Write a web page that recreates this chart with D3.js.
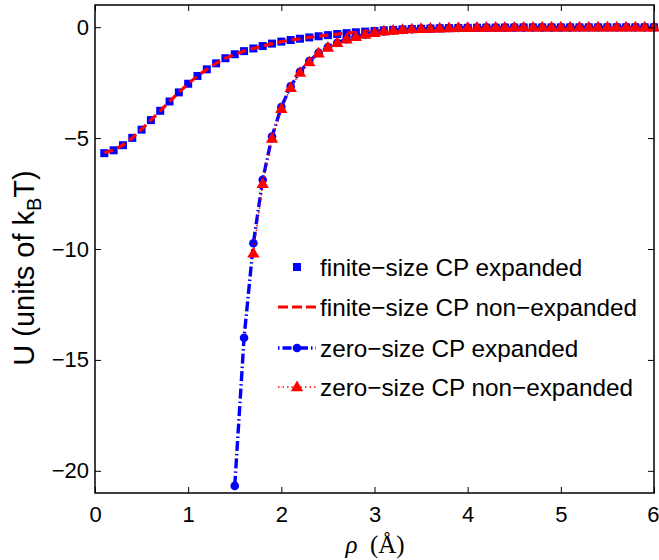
<!DOCTYPE html>
<html>
<head>
<meta charset="utf-8">
<script src="https://cdn.jsdelivr.net/npm/d3@7"></script>
<style>
  html, body { margin: 0; padding: 0; background: #fff; }
  svg { display: block; }
</style>
</head>
<body>
<svg id="chart" width="659" height="560"></svg>
<script>
// ---------------- data ----------------
const rhoFinite = [0.1,0.2,0.3,0.4,0.5,0.6,0.7,0.8,0.9,1.0,
  1.1,1.2,1.3,1.4,1.5,1.6,1.7,1.8,1.9,2.0,
  2.1,2.2,2.3,2.4,2.5,2.6,2.7,2.8,2.9,3.0,
  3.1,3.2,3.3,3.4,3.5,3.6,3.7,3.8,3.9,4.0,
  4.1,4.2,4.3,4.4,4.5,4.6,4.7,4.8,4.9,5.0,
  5.1,5.2,5.3,5.4,5.5,5.6,5.7,5.8,5.9,6.0];
const finiteExpanded = [-5.68,-5.55,-5.32,-4.99,-4.62,-4.19,-3.77,-3.35,-2.94,-2.55,
  -2.20,-1.90,-1.63,-1.40,-1.22,-1.08,-0.96,-0.85,-0.74,-0.65,
  -0.58,-0.52,-0.46,-0.41,-0.36,-0.31,-0.27,-0.23,-0.20,-0.17,
  -0.14,-0.12,-0.10,-0.08,-0.07,-0.06,-0.05,-0.04,-0.035,-0.03,
  -0.025,-0.02,-0.02,-0.015,-0.015,-0.01,-0.01,-0.01,-0.01,-0.01,
  -0.008,-0.008,-0.007,-0.007,-0.006,-0.006,-0.005,-0.005,-0.005,-0.005];
const finiteNonExpanded = [-5.66,-5.54,-5.31,-4.99,-4.61,-4.19,-3.77,-3.35,-2.94,-2.55,
  -2.20,-1.90,-1.63,-1.40,-1.22,-1.08,-0.96,-0.85,-0.74,-0.65,
  -0.58,-0.52,-0.46,-0.41,-0.36,-0.31,-0.27,-0.23,-0.20,-0.17,
  -0.14,-0.12,-0.10,-0.08,-0.07,-0.06,-0.05,-0.04,-0.035,-0.03,
  -0.025,-0.02,-0.02,-0.015,-0.015,-0.01,-0.01,-0.01,-0.01,-0.01,
  -0.008,-0.008,-0.007,-0.007,-0.006,-0.006,-0.005,-0.005,-0.005,-0.005];
const rhoZeroExp = [1.5,1.6,1.7,1.8,1.9,2.0,
  2.1,2.2,2.3,2.4,2.5,2.6,2.7,2.8,2.9,3.0,
  3.1,3.2,3.3,3.4,3.5,3.6,3.7,3.8,3.9,4.0,
  4.1,4.2,4.3,4.4,4.5,4.6,4.7,4.8,4.9,5.0,
  5.1,5.2,5.3,5.4,5.5,5.6,5.7,5.8,5.9,6.0];
const zeroExpanded = [-20.68,-14.0,-9.74,-6.88,-4.93,-3.60,
  -2.67,-2.01,-1.53,-1.16,-0.90,-0.70,-0.54,-0.42,-0.33,-0.25,
  -0.19,-0.15,-0.12,-0.09,-0.07,-0.06,-0.05,-0.04,-0.03,-0.025,
  -0.02,-0.02,-0.015,-0.015,-0.01,-0.01,-0.01,-0.008,-0.008,-0.007,
  -0.007,-0.006,-0.006,-0.005,-0.005,-0.005,-0.004,-0.004,-0.004,-0.004];
const rhoZeroNonExp = [1.7,1.8,1.9,2.0,
  2.1,2.2,2.3,2.4,2.5,2.6,2.7,2.8,2.9,3.0,
  3.1,3.2,3.3,3.4,3.5,3.6,3.7,3.8,3.9,4.0,
  4.1,4.2,4.3,4.4,4.5,4.6,4.7,4.8,4.9,5.0,
  5.1,5.2,5.3,5.4,5.5,5.6,5.7,5.8,5.9,6.0];
const zeroNonExpanded = [-10.2,-7.06,-5.02,-3.68,
  -2.73,-2.05,-1.57,-1.18,-0.92,-0.71,-0.55,-0.43,-0.33,-0.25,
  -0.19,-0.15,-0.12,-0.09,-0.07,-0.06,-0.05,-0.04,-0.03,-0.025,
  -0.02,-0.02,-0.015,-0.015,-0.01,-0.01,-0.01,-0.008,-0.008,-0.007,
  -0.007,-0.006,-0.006,-0.005,-0.005,-0.005,-0.004,-0.004,-0.004,-0.004];
const xTicks = [0,1,2,3,4,5,6];
const yTicks = [0,-5,-10,-15,-20];
const legendLabels = ["finite\u2212size CP expanded","finite\u2212size CP non\u2212expanded",
  "zero\u2212size CP expanded","zero\u2212size CP non\u2212expanded"];

// ---------------- layout ----------------
const svg = d3.select("#chart");
const L = 95, R = 654, T = 5, B = 493;
const x = d3.scaleLinear().domain([0,6]).range([L,R]);
const y = d3.scaleLinear().domain([-21,1]).range([B,T]);
const BLUE = "#0000ff", RED = "#ff0000";
const sans = "'Liberation Sans', Arial, Helvetica, sans-serif";

const zip = (xs, ys) => xs.map((v,i) => [v, ys[i]]);
const line = d3.line().x(d => x(d[0])).y(d => y(d[1]));

const plot = svg.append("g");

// series 1: blue squares
const S = 8;
plot.append("g").selectAll("rect").data(zip(rhoFinite, finiteExpanded)).join("rect")
  .attr("x", d => x(d[0]) - S/2).attr("y", d => y(d[1]) - S/2)
  .attr("width", S).attr("height", S).attr("fill", BLUE);

// series 2: red dashed
plot.append("path").datum(zip(rhoFinite, finiteNonExpanded))
  .attr("d", line).attr("fill","none").attr("stroke", RED)
  .attr("stroke-width", 3.2).attr("stroke-dasharray","9,5");

// series 3: blue dash-dot + circles
plot.append("path").datum(zip(rhoZeroExp, zeroExpanded))
  .attr("d", line).attr("fill","none").attr("stroke", BLUE)
  .attr("stroke-width", 3.4).attr("stroke-dasharray","10,3,1.5,3");
plot.append("g").selectAll("circle").data(zip(rhoZeroExp, zeroExpanded)).join("circle")
  .attr("cx", d => x(d[0])).attr("cy", d => y(d[1])).attr("r", 4.3).attr("fill", BLUE);

// series 4: red dotted + triangles
plot.append("path").datum(zip(rhoZeroNonExp, zeroNonExpanded))
  .attr("d", line).attr("fill","none").attr("stroke", RED)
  .attr("stroke-width", 1.5).attr("stroke-dasharray","1.5,3");
const tri = d3.symbol().type(d3.symbolTriangle).size(66);
plot.append("g").selectAll("path").data(zip(rhoZeroNonExp, zeroNonExpanded)).join("path")
  .attr("d", tri).attr("transform", d => `translate(${x(d[0])},${y(d[1])+0.6})`)
  .attr("fill", RED);

// ---------------- axes ----------------
const tl = 6;
const ax = svg.append("g");
const xAxisG = ax.append("g").attr("transform", `translate(0,${B})`)
  .call(d3.axisBottom(x).tickValues(xTicks).tickSizeInner(-tl).tickSizeOuter(0).tickPadding(13).tickFormat(d3.format("d")));
ax.append("g").attr("transform", `translate(0,${T})`)
  .call(d3.axisTop(x).tickValues(xTicks).tickSizeInner(-tl).tickSizeOuter(0).tickFormat(""));
ax.append("g").attr("transform", `translate(${L},0)`)
  .call(d3.axisLeft(y).tickValues(yTicks).tickSizeInner(-tl).tickSizeOuter(0).tickPadding(6)
    .tickFormat(d => d < 0 ? "\u2212" + Math.abs(d) : String(d)));
ax.append("g").attr("transform", `translate(${R},0)`)
  .call(d3.axisRight(y).tickValues(yTicks).tickSizeInner(-tl).tickSizeOuter(0).tickFormat(""));
ax.selectAll(".domain").remove();
ax.selectAll(".tick line").attr("stroke","#000").attr("stroke-width",1);
ax.selectAll(".tick text").attr("font-family", sans).attr("font-size", 22).attr("fill","#000");
// keep the last x label inside the canvas
xAxisG.selectAll(".tick text").filter(d => d === 6).attr("text-anchor","end").attr("dx", 0).attr("x", 5);
svg.append("rect").attr("x", L).attr("y", T).attr("width", R-L).attr("height", B-T)
  .attr("fill","none").attr("stroke","#000").attr("stroke-width",1.5);

// ---------------- labels ----------------
const xl = svg.append("text").attr("x", 375).attr("y", 553).attr("text-anchor","middle")
  .attr("font-family","'Liberation Serif','DejaVu Serif',serif").attr("font-size", 25).attr("fill","#000");
xl.append("tspan").attr("font-style","italic").text("\u03C1");
xl.append("tspan").text("\u2002(\u00C5)");

const yl = svg.append("text").attr("transform","translate(34,268) rotate(-90)")
  .attr("text-anchor","middle").attr("font-family", sans).attr("font-size", 29).attr("fill","#000");
yl.append("tspan").text("U (units of k");
yl.append("tspan").attr("font-size", 20).attr("dy", 7).text("B");
yl.append("tspan").attr("dy", -7).text("T)");

// ---------------- legend ----------------
const lg = svg.append("g");
const rowsY = [267, 307, 348, 387];
const lx0 = 278, lx1 = 316, lxm = 297;
rowsY.forEach((ry, i) => {
  const g = lg.append("g");
  if (i === 0) {
    g.append("rect").attr("x", lxm - S/2).attr("y", ry - S/2).attr("width", S).attr("height", S).attr("fill", BLUE);
  } else if (i === 1) {
    g.append("line").attr("x1", lx0).attr("x2", lx1).attr("y1", ry).attr("y2", ry)
      .attr("stroke", RED).attr("stroke-width", 3.2).attr("stroke-dasharray","10,4");
  } else if (i === 2) {
    g.append("line").attr("x1", lx0).attr("x2", lx1).attr("y1", ry).attr("y2", ry)
      .attr("stroke", BLUE).attr("stroke-width", 3.4).attr("stroke-dasharray","1.5,3,9,3");
    g.append("circle").attr("cx", lxm).attr("cy", ry).attr("r", 4.3).attr("fill", BLUE);
  } else {
    g.append("line").attr("x1", lx0).attr("x2", lx1).attr("y1", ry).attr("y2", ry)
      .attr("stroke", RED).attr("stroke-width", 1.5).attr("stroke-dasharray","1.5,3");
    g.append("path").attr("d", tri).attr("transform", `translate(${lxm},${ry+0.6})`).attr("fill", RED);
  }
  g.append("text").attr("x", 320).attr("y", ry + 8.5).attr("font-family", sans)
    .attr("font-size", 24.3).attr("fill","#000").text(legendLabels[i]);
});
</script>
</body>
</html>
